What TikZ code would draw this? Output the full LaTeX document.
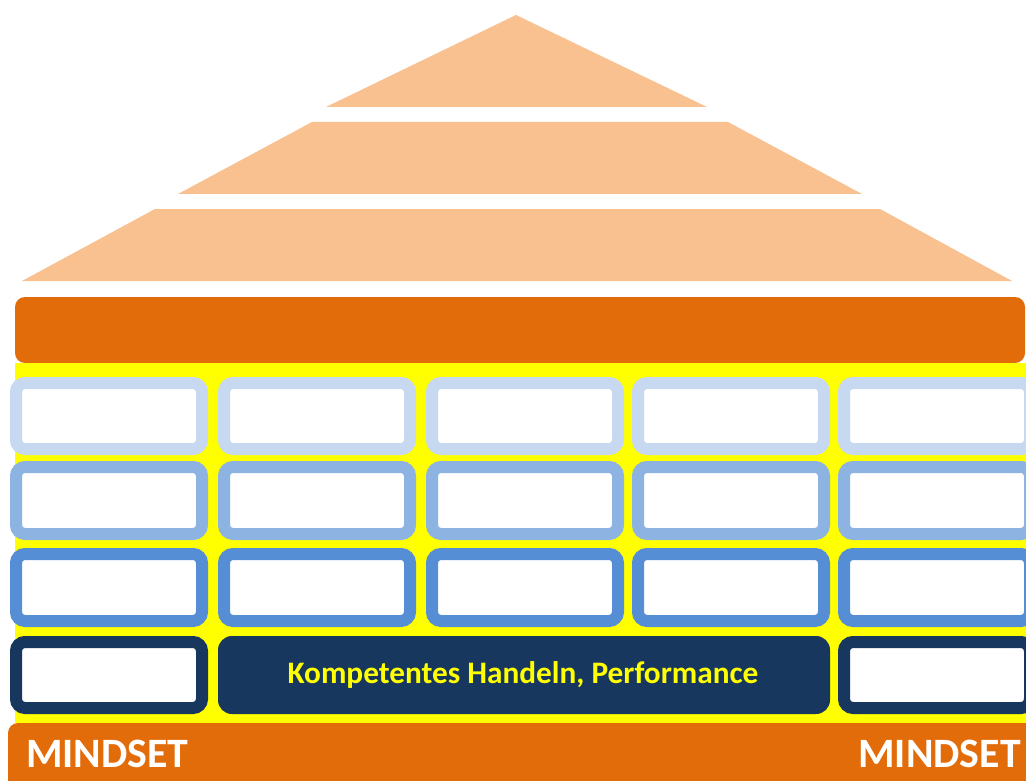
\documentclass[tikz,border=0pt]{standalone}
\usepackage{fontspec}
\setmainfont{Carlito}
\definecolor{peach}{HTML}{F9C090}
\definecolor{rust}{HTML}{E36C0A}
\definecolor{lemon}{HTML}{FFFF00}
\definecolor{blueA}{HTML}{C6D9F1}
\definecolor{blueB}{HTML}{8DB3E2}
\definecolor{blueC}{HTML}{558ED5}
\definecolor{navy}{HTML}{17375E}
\begin{document}
\begin{tikzpicture}[x=1pt,y=-1pt,
  cell/.style={line width=12pt, fill=white, rounded corners=9pt},
  roof/.style={fill=peach},
  bigtext/.style={font=\bfseries\fontsize{41.8}{48}\selectfont, text=white, inner sep=0pt},
  label/.style={font=\bfseries\fontsize{31.3}{36}\selectfont, text=lemon, inner sep=0pt}]
\useasboundingbox (0,0) rectangle (1026,781);
\clip (0,0) rectangle (1026,781);
\fill[white] (0,0) rectangle (1026,781);

% roof: three stacked tiers
\fill[roof] (326,107) -- (516,15) -- (707,107) -- cycle;
\fill[roof] (178,194) -- (312,122) -- (728,122) -- (862,194) -- cycle;
\fill[roof] (22,281) -- (155,209) -- (880,209) -- (1012,281) -- cycle;

% top beam
\fill[rust, rounded corners=10pt] (15,297) rectangle (1025,363);

% wall background
\fill[lemon] (15,363) rectangle (1026,723);

% three rows of framed cells
\foreach \ya/\yb/\c in {377/455/blueA, 461/540/blueB, 548/627/blueC} {
  \foreach \xa in {10,218,426,632,838} {
    \draw[cell, draw=\c] (\xa+6,\ya+6) rectangle (\xa+192,\yb-6);
  }
}

% bottom row
\draw[cell, draw=navy] (16,642) rectangle (202,708);
\draw[cell, draw=navy] (844,642) rectangle (1030,708);
\fill[navy, rounded corners=14pt] (218,636) rectangle (830,714);
\node[label] (perf) at (523,675) {Kompetentes Handeln, Performance};

% foundation
\fill[rust, rounded corners=10pt] (8,723) rectangle (1040,800);
\node[bigtext, anchor=base west] (mindL) at (26,767) {MINDSET};
\node[bigtext, anchor=base east] (mindR) at (1021,767) {MINDSET};
\end{tikzpicture}
\end{document}
